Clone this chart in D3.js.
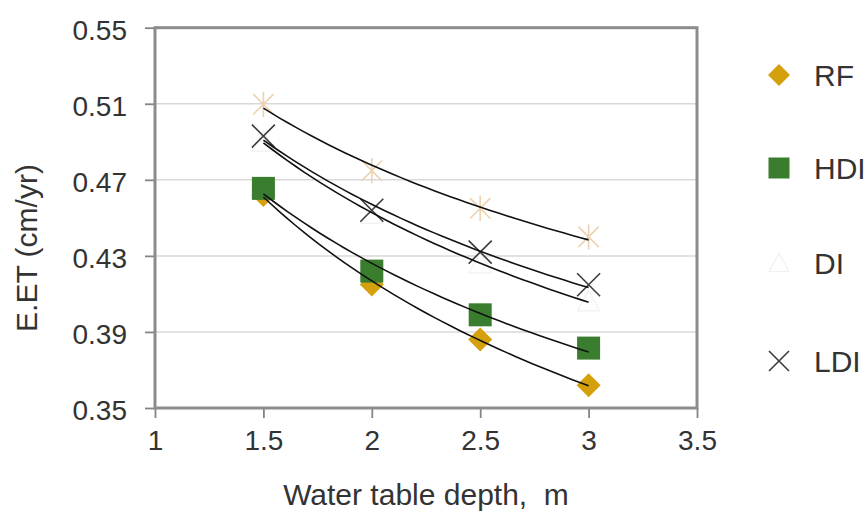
<!DOCTYPE html>
<html>
<head>
<meta charset="utf-8">
<script src="https://cdn.jsdelivr.net/npm/d3@7"></script>
<style>
  html, body { margin: 0; padding: 0; background: #fff; }
  svg { display: block; font-family: "Liberation Sans", Arial, sans-serif; }
</style>
</head>
<body>
<svg id="chart" width="867" height="511"></svg>
<script>
// ---- data ----
const depths = [1.5, 2.0, 2.5, 3.0];
const rfValues  = [0.462, 0.415, 0.386, 0.362];
const hdiValues = [0.4655, 0.422, 0.399, 0.3815];
const diValues  = [0.490, 0.452, 0.426, 0.406];
const ldiValues = [0.493, 0.454, 0.432, 0.4148];
const extraValues = [0.5097, 0.4748, 0.455, 0.440];
const seriesNames = ["RF", "HDI", "DI", "LDI"];
const xTicks = [1, 1.5, 2, 2.5, 3, 3.5];
const yTicks = [0.35, 0.39, 0.43, 0.47, 0.51, 0.55];

// ---- layout ----
const svg = d3.select("#chart");
const L = 155, R = 697, T = 27.7, B = 408;
const x = d3.scaleLinear().domain([1, 3.5]).range([L, R]);
const y = d3.scaleLinear().domain([0.35, 0.55]).range([B, T]);
const axisColor = "#858585";
const textColor = "#333";

// gridlines
svg.append("g").selectAll("line")
  .data(yTicks.filter(v => v > 0.35 && v < 0.55))
  .join("line")
  .attr("x1", L).attr("x2", R)
  .attr("y1", d => y(d)).attr("y2", d => y(d))
  .attr("stroke", "#d9d9d9").attr("stroke-width", 1.5);

// axes
const yAxis = d3.axisLeft(y).tickValues(yTicks).tickFormat(d3.format(".2f")).tickSize(10).tickPadding(18);
const gy = svg.append("g").attr("transform", `translate(${L},0)`).call(yAxis);
const xAxis = d3.axisBottom(x).tickValues(xTicks).tickFormat(d => String(d)).tickSize(10).tickPadding(12);
const gx = svg.append("g").attr("transform", `translate(0,${B})`).call(xAxis);
[gx, gy].forEach(g => {
  g.select(".domain").remove();
  g.selectAll(".tick line").attr("stroke", axisColor).attr("stroke-width", 1.8);
  g.selectAll(".tick text").attr("fill", textColor).style("font-size", "28px")
    .style("font-family", '"Liberation Sans", Arial, sans-serif');
});
gy.selectAll(".tick text").attr("dy", "0.42em");
gx.selectAll(".tick text").attr("dy", "0.71em");

// frame
svg.append("rect").attr("x", L).attr("y", T).attr("width", R - L).attr("height", B - T)
  .attr("fill", "none").attr("stroke", "#8c8c8c").attr("stroke-width", 3);

// markers
const pts = vals => depths.map((d, i) => [x(d), y(vals[i])]);

function drawDiamond(g, p, r, color) {
  g.append("path")
    .attr("d", `M${p[0]},${p[1]-r}L${p[0]+r},${p[1]}L${p[0]},${p[1]+r}L${p[0]-r},${p[1]}Z`)
    .attr("fill", color);
}
function drawSquare(g, p, h, color) {
  g.append("rect").attr("x", p[0]-h).attr("y", p[1]-h).attr("width", 2*h).attr("height", 2*h)
    .attr("fill", color);
}
function drawTriangle(g, p, r) {
  g.append("path")
    .attr("d", `M${p[0]},${p[1]-r}L${p[0]+r},${p[1]+r*0.85}L${p[0]-r},${p[1]+r*0.85}Z`)
    .attr("fill", "#fefefe").attr("stroke", "#f1f1f1").attr("stroke-width", 1.2);
}
function drawX(g, p, r, color, w) {
  g.append("path")
    .attr("d", `M${p[0]-r},${p[1]-r}L${p[0]+r},${p[1]+r}M${p[0]-r},${p[1]+r}L${p[0]+r},${p[1]-r}`)
    .attr("stroke", color).attr("stroke-width", w).attr("fill", "none");
}
function drawStar(g, p, r, color) {
  const a = r * 0.85;
  g.append("path")
    .attr("d", `M${p[0]-a},${p[1]-a}L${p[0]+a},${p[1]+a}M${p[0]-a},${p[1]+a}L${p[0]+a},${p[1]-a}M${p[0]},${p[1]-r*1.05}L${p[0]},${p[1]+r*1.05}`)
    .attr("stroke", color).attr("stroke-width", 1.6).attr("fill", "none");
}

const mg = svg.append("g");
const gold = "#d4a00c", green = "#3a7d2e", gray = "#3c3c3c", tan = "#ecd2b0";
pts(rfValues).forEach(p => drawDiamond(mg, p, 12, gold));
pts(hdiValues).forEach(p => drawSquare(mg, p, 11.5, green));
pts(extraValues).forEach(p => drawStar(mg, p, 12, tan));
pts(diValues).forEach(p => drawTriangle(mg, p, 11));
pts(ldiValues).forEach(p => drawX(mg, p, 11.5, gray, 1.6));

// power trendlines (least squares on log-log)
function powerFit(xs, ys) {
  const lx = xs.map(Math.log), ly = ys.map(Math.log);
  const n = xs.length, mx = d3.mean(lx), my = d3.mean(ly);
  let sxy = 0, sxx = 0;
  for (let i = 0; i < n; i++) { sxy += (lx[i]-mx)*(ly[i]-my); sxx += (lx[i]-mx)**2; }
  const b = sxy / sxx, a = Math.exp(my - b * mx);
  return t => a * Math.pow(t, b);
}
const line = d3.line().x(d => x(d[0])).y(d => y(d[1]));
const tg = svg.append("g");
[rfValues, hdiValues, diValues, ldiValues, extraValues].forEach(vals => {
  const f = powerFit(depths, vals);
  const samples = d3.range(0, 41).map(i => {
    const t = depths[0] + (depths[depths.length-1] - depths[0]) * i / 40;
    return [t, f(t)];
  });
  tg.append("path").attr("d", line(samples))
    .attr("fill", "none").attr("stroke", "#111").attr("stroke-width", 1.6);
});

// axis titles
svg.append("text").attr("x", (L + R) / 2).attr("y", 505).attr("text-anchor", "middle")
  .attr("fill", textColor).style("font-size", "30px").text("Water table depth,  m")
  .attr("xml:space", "preserve").style("white-space", "pre");
svg.append("text").attr("transform", "translate(37,248) rotate(-90)").attr("text-anchor", "middle")
  .attr("fill", textColor).style("font-size", "30px").text("E.ET (cm/yr)");

// legend
const lg = svg.append("g");
const legY = [75, 168, 263, 361];
const lx0 = 779;
drawDiamond(lg, [lx0, legY[0]], 11, gold);
drawSquare(lg, [lx0, legY[1]], 10.5, green);
drawTriangle(lg, [lx0, legY[2]], 10);
drawX(lg, [lx0, legY[3]], 10, gray, 1.6);
lg.selectAll("text").data(seriesNames).join("text")
  .attr("x", 814).attr("y", (d, i) => legY[i]).attr("dy", "0.36em")
  .attr("fill", textColor).style("font-size", "30px").text(d => d);
</script>
</body>
</html>
